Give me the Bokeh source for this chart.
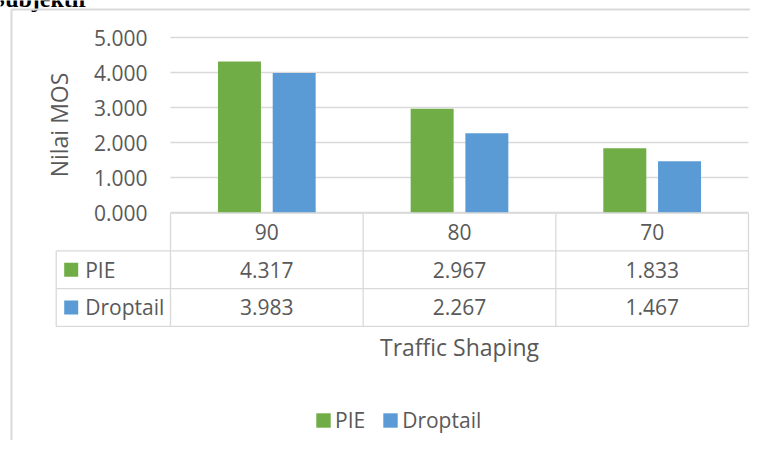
from bokeh.plotting import figure
from bokeh.models import (Range1d, LinearAxis, NumeralTickFormatter, FixedTicker,
                          Legend, LegendItem)
from bokeh.core.properties import value
from bokeh.embed import file_html
from bokeh.resources import INLINE

# ---------------- data ----------------
categories = ["90", "80", "70"]
series_names = ["PIE", "Droptail"]
pie_values = [4.317, 2.967, 1.833]
droptail_values = [3.983, 2.267, 1.467]
y_ticks = [0, 1, 2, 3, 4, 5]
x_title = "Traffic Shaping"
y_title = "Nilai MOS"
heading_text = "Subjektif"
series_colors = ["#70AD47", "#5B9BD5"]

# ---------------- style / geometry (canvas pixels) ----------------
FONT = "Open Sans"
TXT = "#595959"
GRID = "#D9D9D9"
W, H = 750, 440
PLOT_L, PLOT_R = 170, 748  # category area
ZERO_Y, PX_UNIT = 212, 35.0
TAB_TOP, ROW_PX = 212.7, 37.7
n = len(categories)
CAT_PX = (PLOT_R - PLOT_L) / n

x_start = -PLOT_L / CAT_PX
x_end = n + (W - PLOT_R) / CAT_PX
y_end = ZERO_Y / PX_UNIT
y_start = -(H - ZERO_Y) / PX_UNIT
t_end = TAB_TOP / ROW_PX
t_start = -(H - TAB_TOP) / ROW_PX

p = figure(width=W, height=H, title=None,
           x_range=Range1d(x_start, x_end), y_range=Range1d(y_start, y_end),
           x_axis_type=None, y_axis_type=None,
           output_backend="svg", toolbar_location=None,
           min_border_left=0, min_border_right=0, min_border_top=0, min_border_bottom=0,
           outline_line_color=None, background_fill_color="white", border_fill_color="white")
p.extra_y_ranges = {"tbl": Range1d(t_start, t_end)}

# clipped heading of the surrounding document
p.text(x=[x_start + 86 / CAT_PX], y=[y_end + 2 / PX_UNIT], text=[heading_text],
       text_align="right", text_baseline="alphabetic",
       text_font=value("Liberation Serif"), text_font_style="bold",
       text_font_size="24px", text_color="black")

# outer chart border (left and top)
bx = x_start + 11.0 / CAT_PX
by = y_end - 9.0 / PX_UNIT
p.segment(x0=[bx, bx], x1=[bx, x_end], y0=[y_start, by], y1=[by, by],
          line_color=GRID, line_width=2)

# horizontal gridlines
p.segment(x0=[0] * len(y_ticks), x1=[n] * len(y_ticks), y0=y_ticks, y1=y_ticks,
          line_color=GRID, line_width=1.3)

# bars
offset, bar_w = 0.142, 0.223
p.vbar(x=[i + 0.5 - offset for i in range(n)], top=pie_values, width=bar_w,
       fill_color=series_colors[0], line_color=None)
p.vbar(x=[i + 0.5 + offset for i in range(n)], top=droptail_values, width=bar_w,
       fill_color=series_colors[1], line_color=None)

# y axis drawn at x = 0 (left edge of the category area)
yax = LinearAxis(fixed_location=0, bounds=(min(y_ticks), max(y_ticks)),
                 ticker=FixedTicker(ticks=y_ticks),
                 formatter=NumeralTickFormatter(format="0.000"))
yax.axis_line_color = None
yax.major_tick_line_color = None
yax.minor_tick_line_color = None
yax.major_tick_out = 0
yax.major_tick_in = 0
yax.major_label_standoff = 23
yax.major_label_text_font = FONT
yax.major_label_text_font_size = "21px"
yax.major_label_text_color = TXT
yax.axis_label = y_title
yax.axis_label_text_font = FONT
yax.axis_label_text_font_size = "23px"
yax.axis_label_text_font_style = "normal"
yax.axis_label_text_color = TXT
yax.axis_label_standoff = 16
p.add_layout(yax, "left")

# ---------------- data table ----------------
n_rows = len(series_names)
left_col = -(PLOT_L - 55.7) / CAT_PX
hx0, hx1, hy = [0], [n], [0]
for r in range(1, n_rows + 2):
    hx0.append(left_col); hx1.append(n); hy.append(-r)
p.segment(x0=hx0, x1=hx1, y0=hy, y1=hy, line_color=GRID, line_width=1.3, y_range_name="tbl")
vx = [left_col] + list(range(n + 1))
vy0 = [-1] + [0] * (n + 1)
vy1 = [-(n_rows + 1)] * (n + 2)
p.segment(x0=vx, x1=vx, y0=vy0, y1=vy1, line_color=GRID, line_width=1.3, y_range_name="tbl")

txt_kw = dict(text_font=value(FONT), text_font_size="21px", text_color=TXT,
              text_baseline="middle", y_range_name="tbl")
p.text(x=[i + 0.5 for i in range(n)], y=[-0.5] * n, text=categories,
       text_align="center", **txt_kw)

all_values = [pie_values, droptail_values]
key_x = left_col + 15.0 / CAT_PX
lab_x = left_col + 29.0 / CAT_PX
key_renderers = []
for r, (name, vals, col) in enumerate(zip(series_names, all_values, series_colors)):
    yy = -(1.5 + r)
    p.text(x=[i + 0.5 for i in range(n)], y=[yy] * n, text=[f"{v:.3f}" for v in vals],
           text_align="center", **txt_kw)
    kr = p.rect(x=[key_x], y=[yy], width=14, height=14, width_units="screen",
                height_units="screen", fill_color=col, line_color=None, y_range_name="tbl")
    key_renderers.append(kr)
    p.text(x=[lab_x], y=[yy], text=[name], text_align="left", **txt_kw)

# x axis title
p.text(x=[n / 2], y=[-3.56], text=[x_title], text_align="center", text_baseline="middle",
       text_font=value(FONT), text_font_size="23px", text_color=TXT, y_range_name="tbl")

legend = Legend(items=[LegendItem(label=nm, renderers=[kr])
                       for nm, kr in zip(series_names, key_renderers)],
                orientation="horizontal", location=(314, 6),
                glyph_width=18, glyph_height=18, label_standoff=3, spacing=16,
                padding=0, margin=0, border_line_color=None, background_fill_alpha=0,
                label_text_font=FONT, label_text_font_size="21px", label_text_color=TXT)
p.add_layout(legend)

open("out.html", "w").write(file_html(p, INLINE))
